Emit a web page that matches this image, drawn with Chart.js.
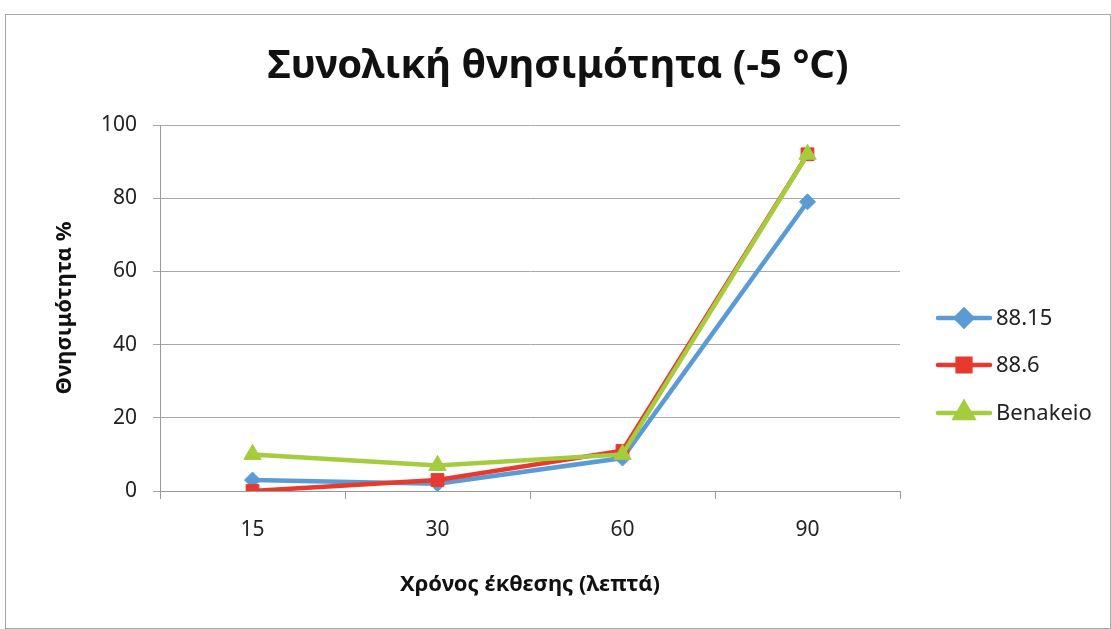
<!DOCTYPE html>
<html>
<head>
<meta charset="utf-8">
<script src="https://cdn.jsdelivr.net/npm/chart.js@4.4.1/dist/chart.umd.min.js"></script>
<style>
    html, body { margin: 0; padding: 0; background: #fff; }
    #box {
        position: absolute; left: 5px; top: 14px;
        width: 1104px; height: 613px;
        border: 1px solid #a8a8a8;
        background: #fff;
    }
</style>
</head>
<body>
<div id="box"><canvas id="chart" width="1104" height="613"></canvas></div>
<script>
// chart data
const categories = ['15', '30', '60', '90'];
const seriesNames = ['88.15', '88.6', 'Benakeio'];
const values8815 = [3, 2, 9, 79];
const values886 = [0, 3, 11, 92];
const valuesBenakeio = [10, 7, 10, 92];
const yTicks = [0, 20, 40, 60, 80, 100];

const colors = ['#5b9bd5', '#e8392e', '#a4cc3c'];
const markers = ['rectRot', 'rect', 'triangle'];
const radii = [8, 9, 10];

const FONT = '"Noto Sans", "Open Sans", sans-serif';

// draws the Excel style legend: short line with the marker in the middle
const lineLegend = {
    id: 'lineLegend',
    afterDraw(chart) {
        const ctx = chart.ctx;
        const x0 = 932, x1 = 984, rows = [303, 350, 398];
        chart.data.datasets.forEach((ds, i) => {
            const y = rows[i];
            ctx.save();
            ctx.strokeStyle = ds.borderColor;
            ctx.lineWidth = 4.5;
            ctx.lineCap = 'round';
            ctx.beginPath();
            ctx.moveTo(x0, y);
            ctx.lineTo(x1, y);
            ctx.stroke();
            Chart.helpers.drawPoint(ctx, {
                pointStyle: ds.pointStyle,
                radius: ds.pointRadius,
                borderWidth: 1,
                rotation: 0
            }, (x0 + x1) / 2, y);
            ctx.fillStyle = ds.backgroundColor;
            ctx.strokeStyle = ds.borderColor;
            ctx.fill();
            ctx.fillStyle = '#222';
            ctx.font = '22px ' + FONT;
            ctx.textBaseline = 'middle';
            ctx.fillText(ds.label, x1 + 6, y + 1);
            ctx.restore();
        });
    }
};

const allValues = [values8815, values886, valuesBenakeio];
const datasets = seriesNames.map((name, i) => ({
    label: name,
    data: allValues[i],
    borderColor: colors[i],
    backgroundColor: colors[i],
    borderWidth: 4.5,
    pointStyle: markers[i],
    pointRadius: radii[i],
    pointHoverRadius: radii[i],
    pointBorderWidth: 1,
    tension: 0,
    order: 2 - i
}));

new Chart(document.getElementById('chart'), {
    type: 'line',
    data: { labels: categories, datasets: datasets },
    plugins: [lineLegend],
    options: {
        responsive: false,
        animation: false,
        layout: { padding: 0 },
        plugins: {
            legend: { display: false },
            tooltip: { enabled: false },
            title: {
                display: true,
                text: 'Συνολική θνησιμότητα (-5 °C)',
                color: '#111',
                font: { family: FONT, size: 40, weight: 'bold' },
                padding: { top: 28, bottom: 34 }
            }
        },
        scales: {
            x: {
                offset: true,
                grid: {
                    offset: true,
                    drawOnChartArea: false,
                    tickLength: 8,
                    color: '#9a9a9a'
                },
                border: { color: '#9a9a9a' },
                ticks: {
                    color: '#222',
                    padding: 18,
                    font: { family: FONT, size: 21 }
                },
                title: {
                    display: true,
                    text: 'Χρόνος έκθεσης (λεπτά)',
                    color: '#111',
                    font: { family: FONT, size: 22, weight: 'bold' },
                    padding: { top: 0, bottom: 30 }
                },
                afterFit(scale) { scale.height = 137; }
            },
            y: {
                min: 0,
                max: 100,
                afterBuildTicks(scale) {
                    scale.ticks = yTicks.map(v => ({ value: v }));
                },
                grid: { color: '#a8a8a8', tickLength: 7 },
                border: { color: '#9a9a9a' },
                ticks: {
                    color: '#222',
                    padding: 16,
                    font: { family: FONT, size: 21 }
                },
                title: {
                    display: true,
                    text: 'Θνησιμότητα %',
                    color: '#111',
                    font: { family: FONT, size: 22, weight: 'bold' },
                    padding: { top: 46, bottom: 0 }
                },
                afterFit(scale) { scale.width = 154; }
            },
            // empty right axis that keeps room for the legend
            legendSpace: {
                type: 'linear',
                position: 'right',
                display: true,
                grid: { display: false },
                border: { display: false },
                ticks: { display: false },
                afterFit(scale) { scale.width = 210; }
            }
        }
    }
});
</script>
</body>
</html>
